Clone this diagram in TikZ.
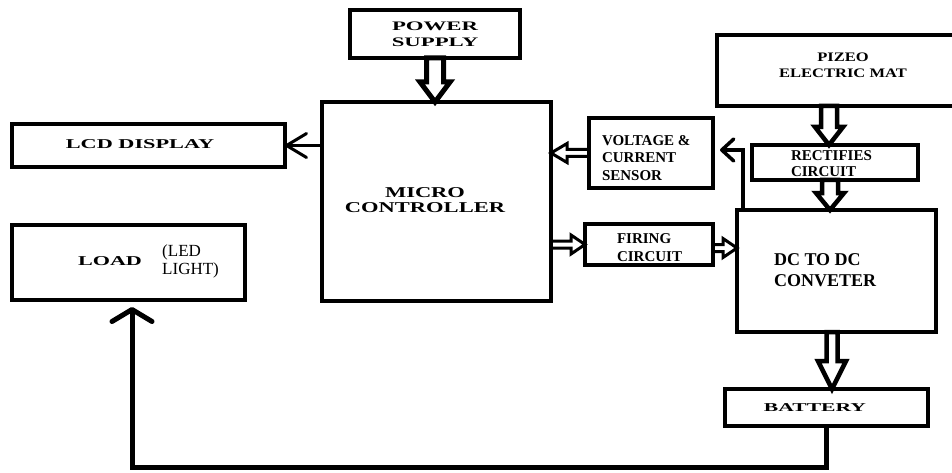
\documentclass[tikz,border=0pt]{standalone}
\usepackage{fontspec}
\setmainfont{Liberation Serif}
\usepackage{graphicx}
\usetikzlibrary{arrows.meta,backgrounds,calc}
\begin{document}
\begin{tikzpicture}[x=1pt,y=-1pt,
  box/.style={draw, line width=4pt, inner sep=0pt, outer sep=0pt, rectangle},
  lbl/.style={inner sep=0pt, outer sep=0pt, font=\bfseries},
  fat/.style={draw, fill=white, line join=miter},
  fatdown/.style n args={3}{to path={let \p1=(\tikztostart), \p2=(\tikztotarget) in
     (\x1-#1,\y1) -- (\x1-#1,\y2+#3) -- (\x1-#2,\y2+#3) -- (\x1,\y2) -- (\x1+#2,\y2+#3) -- (\x1+#1,\y2+#3) -- (\x1+#1,\y1) -- cycle}},
  fatright/.style n args={3}{to path={let \p1=(\tikztostart), \p2=(\tikztotarget) in
     (\x1,\y1+#1) -- (\x2-#3,\y1+#1) -- (\x2-#3,\y1+#2) -- (\x2,\y1) -- (\x2-#3,\y1-#2) -- (\x2-#3,\y1-#1) -- (\x1,\y1-#1) -- cycle}},
  fatleft/.style n args={3}{to path={let \p1=(\tikztostart), \p2=(\tikztotarget) in
     (\x1,\y1+#1) -- (\x2+#3,\y1+#1) -- (\x2+#3,\y1+#2) -- (\x2,\y1) -- (\x2+#3,\y1-#2) -- (\x2+#3,\y1-#1) -- (\x1,\y1-#1) -- cycle}},
  conn/.style={draw, line width=3pt}
]
\useasboundingbox (0,0) rectangle (952,473);

% boxes
\node[box, minimum width=170pt, minimum height=48pt] (ps) at (435,34) {};
\node[box, minimum width=229pt, minimum height=199pt] (mc) at (436.5,201.5) {};
\node[box, minimum width=273pt, minimum height=43pt] (lcd) at (148.5,145.5) {};
\node[box, minimum width=233pt, minimum height=75pt] (load) at (128.5,262.5) {};
\node[box, minimum width=124pt, minimum height=70pt] (sen) at (651,153) {};
\node[box, minimum width=128pt, minimum height=41pt] (fir) at (649,244.5) {};
\node[box, minimum width=166pt, minimum height=35pt] (rec) at (835,162.5) {};
\node[box, minimum width=199pt, minimum height=122pt] (dc) at (836.5,271) {};
\node[box, minimum width=258pt, minimum height=71pt] (piz) at (846,70.5) {};
\node[box, minimum width=203pt, minimum height=37pt] (bat) at (826.5,407.5) {};

% labels
\node[lbl] (pst) at (435,35) {\scalebox{1.75}[1]{\fontsize{13}{16}\selectfont\begin{tabular}{@{}c@{}}POWER\\SUPPLY\end{tabular}}};
\node[lbl] (mct) at (425,202) {\scalebox{1.5}[1]{\fontsize{15}{15}\selectfont\begin{tabular}{@{}c@{}}MICRO\\CONTROLLER\end{tabular}}};
\node[lbl] (lcdt) at (140,144) {\scalebox{1.65}[1]{\fontsize{13.5}{16}\selectfont LCD DISPLAY}};
\node[lbl] (loadt) at (110,261) {\scalebox{1.64}[1]{\fontsize{13.5}{16}\selectfont LOAD}};
\node[inner sep=0pt, anchor=west, align=left, font=\fontsize{17}{18}\selectfont] (ledt) at (162,261) {(LED\\LIGHT)};
\node[lbl, anchor=west, align=left, font=\bfseries\fontsize{15}{17.5}\selectfont] (sent) at (602,158) {VOLTAGE \&\\CURRENT\\SENSOR};
\node[lbl, anchor=west, align=left, font=\bfseries\fontsize{15}{18}\selectfont] (firt) at (617,248) {FIRING\\CIRCUIT};
\node[lbl, anchor=west, align=left, font=\bfseries\fontsize{15}{16}\selectfont] (rect) at (791,163.5) {RECTIFIES\\CIRCUIT};
\node[lbl, anchor=west, align=left, font=\bfseries\fontsize{18}{21}\selectfont] (dct) at (774,270) {DC TO DC\\CONVETER};
\node[lbl] (pizt) at (843,66) {\scalebox{1.27}[1]{\fontsize{13}{16}\selectfont\begin{tabular}{@{}c@{}}PIZEO\\ELECTRIC MAT\end{tabular}}};
\node[lbl] (batt) at (815,408) {\scalebox{1.8}[1]{\fontsize{12}{14}\selectfont BATTERY}};

% hollow block arrows
\begin{scope}[on background layer]
\draw[fat, line width=5pt, fatdown={8.5pt}{15pt}{20pt}] (ps.south) to (mc.north);
\draw[fat, line width=4.5pt, fatdown={8pt}{14pt}{18pt}] ($(rec.north |- piz.south)+(-6,0)$) to ($(rec.north)+(-6,0)$);
\draw[fat, line width=4.5pt, fatdown={8pt}{14pt}{17pt}] ($(rec.south)+(-5,0)$) to ($(dc.north)+(-5,0)$);
\draw[fat, line width=4.5pt, fatdown={5.5pt}{14pt}{28pt}] ($(dc.south)+(-4.5,0)$) to ($(bat.north)+(5.5,0)$);
\draw[fat, line width=3pt, fatleft={3.5pt}{9.5pt}{16pt}] (sen.west) to (sen.west -| mc.east);
\draw[fat, line width=3pt, fatright={3.5pt}{9.5pt}{14pt}] (fir.west -| mc.east) to (fir.west);
\draw[fat, line width=3pt, fatright={3.5pt}{9.5pt}{14pt}] ($(fir.east)+(0,3.5)$) to ($(fir.east -| dc.west)+(0,3.5)$);
\end{scope}

% line connectors
\draw[conn, -{Straight Barb[length=20pt,width=24pt,round]}] (lcd.east -| mc.west) -- (lcd.east);
\draw[conn, line width=3.5pt, -{Straight Barb[length=12pt,width=22pt,round]}] ($(dc.north west)+(6,0)$) |- ($(sen.east)+(7,-3)$);
\draw[conn, line width=5pt, -{Straight Barb[length=12pt,width=40pt,round]}] (bat.south) -- ++(0,41) -| ($(load.south)+(3.5,7)$);
\end{tikzpicture}
\end{document}
